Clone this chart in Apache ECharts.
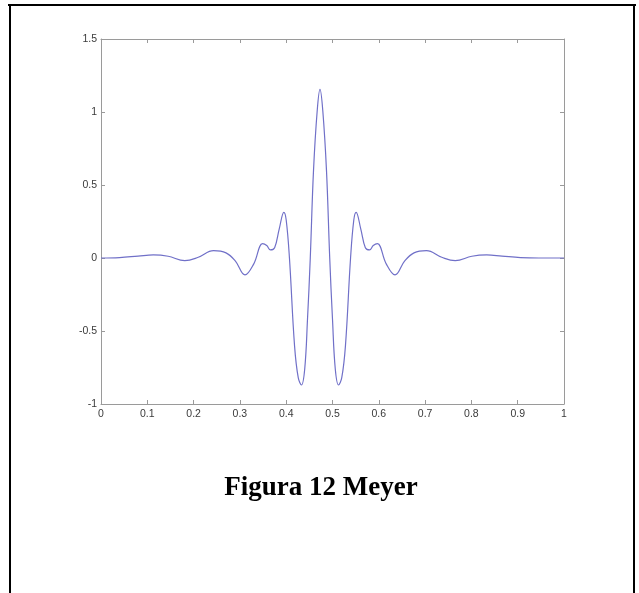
<!DOCTYPE html>
<html lang="en">
<head>
    <meta charset="UTF-8">
    <title>Figura 12 Meyer</title>
    <script type="text/javascript" src="https://cdn.jsdelivr.net/npm/echarts@6/dist/echarts.min.js"></script>
    <style>
        html, body { margin: 0; padding: 0; background: #fff; }
    </style>
</head>
<body>
    <div id="main" style="width: 639px; height: 593px;"></div>
    <script type="text/javascript">

// wavelet curve
var xs = [
    0.000, 0.040, 0.080, 0.113, 0.145, 0.181, 0.210, 0.243, 0.270, 0.290,
    0.311, 0.330, 0.349, 0.358, 0.366, 0.375, 0.385, 0.395, 0.400, 0.407,
    0.418, 0.426, 0.433, 0.440, 0.446, 0.452, 0.459, 0.467, 0.473,
    0.479, 0.487, 0.494, 0.500, 0.506, 0.513, 0.520, 0.528, 0.539, 0.546,
    0.551, 0.561, 0.571, 0.580, 0.588, 0.597, 0.616, 0.635, 0.656, 0.676,
    0.703, 0.736, 0.765, 0.801, 0.833, 0.866, 0.906, 0.946, 1.000
];
var ys = [
    0.000, 0.003, 0.013, 0.021, 0.012, -0.018, 0.005, 0.050, 0.035, -0.020,
    -0.116, -0.040, 0.098, 0.085, 0.055, 0.070, 0.200, 0.313, 0.260, 0.000,
    -0.600, -0.820, -0.870, -0.760, -0.420, 0.000, 0.600, 1.010, 1.155,
    1.010, 0.600, 0.000, -0.420, -0.760, -0.870, -0.820, -0.600, 0.000, 0.260,
    0.313, 0.200, 0.070, 0.055, 0.085, 0.098, -0.040, -0.116, -0.020, 0.035,
    0.050, 0.005, -0.018, 0.012, 0.021, 0.013, 0.003, 0.000, 0.000
];

var xTickLabels = ['0', '0.1', '0.2', '0.3', '0.4', '0.5', '0.6', '0.7', '0.8', '0.9', '1'];
var yTickLabels = ['-1', '-0.5', '0', '0.5', '1', '1.5'];

var caption = 'Figura 12 Meyer';

var chartDom = document.getElementById('main');
var myChart = echarts.init(chartDom);
var option;

var points = [];
for (var i = 0; i < xs.length; i++) {
    points.push([xs[i], ys[i]]);
}

var boxColor = '#9a9a9a';
var labelStyle = {
    color: '#3a3a3a',
    fontFamily: 'Arial, "Liberation Sans", sans-serif',
    fontSize: 10.5
};

function xLabel(v) {
    return xTickLabels[Math.round(v * 10)];
}
function yLabel(v) {
    return yTickLabels[Math.round((v + 1) * 2)];
}

option = {
    animation: false,
    backgroundColor: '#fff',
    grid: {
        left: 101,
        top: 39,
        width: 463,
        height: 365
    },
    xAxis: [
        {
            type: 'value',
            min: 0,
            max: 1,
            interval: 0.1,
            position: 'bottom',
            axisLine: { onZero: false, lineStyle: { color: boxColor, width: 1 } },
            axisTick: { inside: true, length: 4, lineStyle: { color: boxColor } },
            axisLabel: Object.assign({ margin: 5, formatter: xLabel }, labelStyle),
            splitLine: { show: false }
        },
        {
            type: 'value',
            min: 0,
            max: 1,
            interval: 0.1,
            position: 'top',
            axisLine: { onZero: false, lineStyle: { color: boxColor, width: 1 } },
            axisTick: { inside: true, length: 4, lineStyle: { color: boxColor } },
            axisLabel: { show: false },
            splitLine: { show: false }
        }
    ],
    yAxis: [
        {
            type: 'value',
            min: -1,
            max: 1.5,
            interval: 0.5,
            position: 'left',
            axisLine: { show: true, onZero: false, lineStyle: { color: boxColor, width: 1 } },
            axisTick: { show: true, inside: true, length: 4, lineStyle: { color: boxColor } },
            axisLabel: Object.assign({ margin: 4, formatter: yLabel }, labelStyle),
            splitLine: { show: false }
        },
        {
            type: 'value',
            min: -1,
            max: 1.5,
            interval: 0.5,
            position: 'right',
            axisLine: { show: true, onZero: false, lineStyle: { color: boxColor, width: 1 } },
            axisTick: { show: true, inside: true, length: 4, lineStyle: { color: boxColor } },
            axisLabel: { show: false },
            splitLine: { show: false }
        }
    ],
    series: [
        {
            type: 'line',
            xAxisIndex: 0,
            yAxisIndex: 0,
            smooth: 0.4,
            symbol: 'none',
            lineStyle: { color: '#7070c8', width: 1.2 },
            data: points
        }
    ],
    graphic: [
        // outer page frame
        { type: 'line', shape: { x1: 8, y1: 5, x2: 636, y2: 5 }, style: { stroke: '#000', lineWidth: 2 } },
        { type: 'line', shape: { x1: 10, y1: 4, x2: 10, y2: 593 }, style: { stroke: '#000', lineWidth: 2 } },
        { type: 'line', shape: { x1: 634, y1: 4, x2: 634, y2: 593 }, style: { stroke: '#000', lineWidth: 2 } },
        {
            type: 'text',
            x: 321,
            y: 488,
            style: {
                text: caption,
                fill: '#000',
                font: 'bold 27px "Liberation Serif", "Times New Roman", serif',
                textAlign: 'center',
                textVerticalAlign: 'middle'
            }
        }
    ]
};

option && myChart.setOption(option);
    </script>
</body>
</html>
